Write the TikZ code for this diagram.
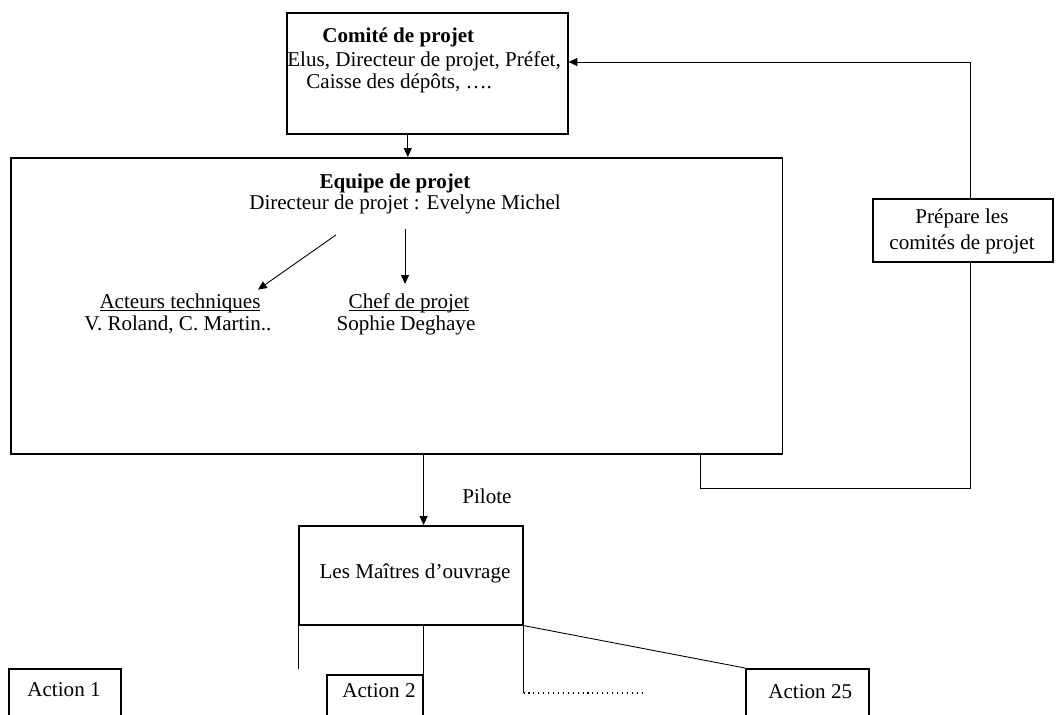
\documentclass[tikz,border=0pt]{standalone}
\usepackage{fontspec}
\setmainfont{Liberation Serif}
\usepackage{tikz}
\usetikzlibrary{arrows.meta,calc}
\tikzset{>={Triangle[length=5pt,width=4.5pt]}}
\newcommand{\souligne}[1]{\underline{\smash{#1}}}
\tikzset{
  cadre/.style={draw,line width=0.9pt,anchor=north west,inner sep=0pt},
  ligne/.style={font=\fontsize{12}{14}\selectfont,inner sep=0pt},
  lien/.style={line width=0.5pt},
}

\begin{document}
\begin{tikzpicture}[x=0.02cm,y=-0.02cm]
\clip (0,0) rectangle (1059,714);
% cadres
\node[cadre,minimum width=5.62cm,minimum height=2.42cm] (comite) at (286,12) {};
\node[cadre,minimum width=15.44cm,minimum height=5.92cm] (equipe) at (10,157) {};
\node[cadre,minimum width=3.6cm,minimum height=1.26cm] (prepare) at (872,198) {};
\node[cadre,minimum width=4.48cm,minimum height=1.98cm] (maitres) at (298,525) {};
\node[cadre,minimum width=2.24cm,minimum height=1.2cm] (action1) at (8,668) {};
\node[cadre,minimum width=1.92cm,minimum height=1.2cm] (action2) at (326,674) {};
\node[cadre,minimum width=2.46cm,minimum height=1.2cm] (action25) at (745,668) {};
% textes
\node[ligne,anchor=base west] (comtitre) at (322,42) {\textbf{Comité de projet}};
\node[ligne,anchor=base west] (comelus) at (287,66) {Elus, Directeur de projet, Préfet,};
\node[ligne,anchor=base west] (comcaisse) at (306,88) {Caisse des dépôts, \ldots.};
\node[ligne,anchor=base] (eqtitre) at (395,188) {\textbf{Equipe de projet}};
\node[ligne,anchor=base] (dirtxt) at (405,209) {Directeur de projet : Evelyne Michel};
\node[ligne,anchor=base] (acteurs) at (180,308) {\souligne{Acteurs techniques}};
\node[ligne,anchor=base] (acteursnoms) at (178,330) {V. Roland, C. Martin..};
\node[ligne,anchor=base] (chef) at (409,308) {\souligne{Chef de projet}};
\node[ligne,anchor=base] (chefnom) at (406,330) {Sophie Deghaye};
\node[ligne,anchor=base] (preptxt) at (962,223) {Prépare les};
\node[ligne,anchor=base] (prepcom) at (962,249) {comités de projet};
\node[ligne,anchor=base west] (pilote) at (462,503) {Pilote};
\node[ligne,anchor=base] (maitrestxt) at (415,578) {Les Maîtres d'ouvrage};
\node[ligne,anchor=base] (act1txt) at (64,696) {Action 1};
\node[ligne,anchor=base west] (act2txt) at (342,697) {Action 2};
\node[ligne,anchor=base west] (act25txt) at (768,698) {Action 25};
% liens
\coordinate (retour) at (700,488);
\coordinate (renvoi) at (970,62);
\coordinate (pointille) at (643,693);
\draw[lien,->] ([xshift=-0.39cm]comite.south) -- ([xshift=-0.39cm]comite.south |- equipe.north);
\draw[lien,->] ($(dirtxt.south)+(-69,21)$) -- ($(acteurs.north)+(78,-18)$);
\draw[lien,->] ($(dirtxt.south)+(0,15)$) -- ($(dirtxt.south)+(0,70)$);
\draw[lien] (equipe.south -| retour) -- (retour) -| (prepare.south -| renvoi);
\draw[lien,->] (prepare.north -| renvoi) -- (renvoi) -- (renvoi -| comite.east);
\draw[lien,->] (equipe.south -| action2.east) -- (maitres.north -| action2.east);
\draw[lien] (maitres.south -| action2.east) -- (action2.north east);
\draw[lien] (maitres.south west) -- ++(0,43);
\draw[lien] (maitres.south east) -- (maitres.south east |- pointille);
\draw[lien,line width=0.6pt,dash pattern=on 0.6pt off 2.2pt] (maitres.south east |- pointille) -- (pointille);
\draw[lien] (maitres.south east) -- (action25.north west);
\end{tikzpicture}
\end{document}
